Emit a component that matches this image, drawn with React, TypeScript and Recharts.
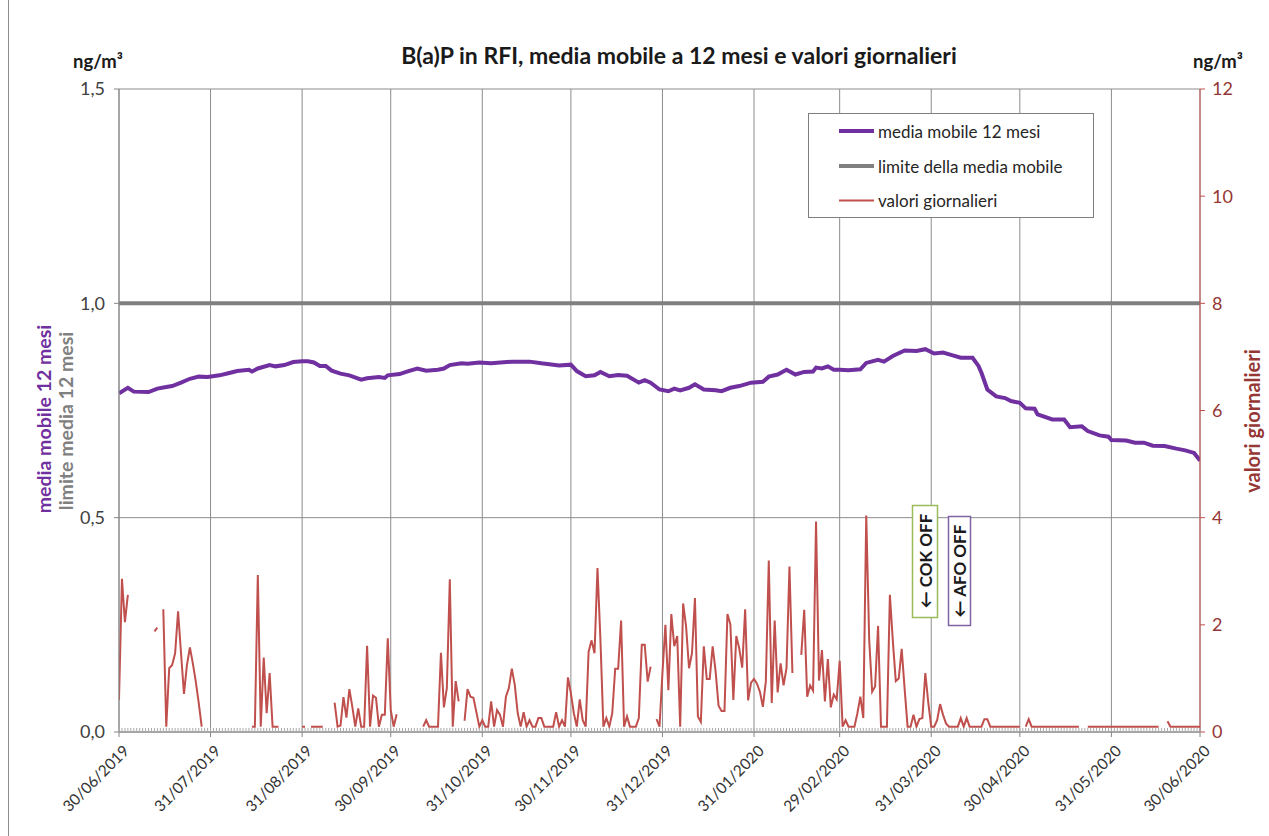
import React from 'react';
import { ComposedChart, Line, XAxis, YAxis, CartesianGrid, ReferenceLine } from 'recharts';

const W = 1269;
const H = 836;

const xTickDays = [0, 31, 62, 92, 123, 153, 184, 215, 244, 275, 305, 336, 366];
const xTickLabels = [
  '30/06/2019', '31/07/2019', '31/08/2019', '30/09/2019', '31/10/2019', '30/11/2019',
  '31/12/2019', '31/01/2020', '29/02/2020', '31/03/2020', '30/04/2020', '31/05/2020', '30/06/2020',
];
const leftTicks = [0, 0.5, 1.0, 1.5];
const rightTicks = [0, 2, 4, 6, 8, 10, 12];

const mavgDays = [
  0, 3, 5, 10, 13, 16, 18, 21, 24, 27, 30, 34, 37, 40, 44, 45, 47, 51, 53, 56, 59, 62, 64, 66, 68, 70,
  72, 75, 78, 82, 84, 88, 90, 91, 95, 98, 101, 104, 108, 110, 112, 116, 118, 122, 126, 133, 139, 143,
  149, 153, 155, 158, 161, 163, 166, 169, 172, 176, 178, 180, 183, 186, 188, 190, 193, 195, 198, 202,
  204, 207, 210, 214, 218, 220, 223, 226, 229, 232, 235, 236, 238, 240, 242, 244, 247, 251, 253, 257,
  259, 262, 266, 270, 273, 276, 279, 282, 285, 289, 291, 292, 294, 297, 300, 302, 305, 307, 310, 311,
  316, 320, 322, 326, 328, 332, 335, 336, 341, 344, 347, 350, 354, 358, 361, 364, 366,
];
const mavgValues = [
  0.790, 0.803, 0.794, 0.793, 0.801, 0.805, 0.807, 0.815, 0.824, 0.829, 0.828, 0.832, 0.837, 0.842, 0.845, 0.841, 0.848, 0.856, 0.853, 0.856, 0.863, 0.865, 0.865, 0.862, 0.854, 0.854,
  0.843, 0.836, 0.832, 0.822, 0.825, 0.828, 0.826, 0.832, 0.835, 0.842, 0.848, 0.843, 0.845, 0.848, 0.856, 0.860, 0.859, 0.862, 0.860, 0.864, 0.864, 0.860,
  0.855, 0.857, 0.842, 0.830, 0.832, 0.840, 0.830, 0.833, 0.831, 0.815, 0.821, 0.815, 0.799, 0.795, 0.801, 0.797, 0.803, 0.811, 0.799, 0.797,
  0.795, 0.803, 0.807, 0.815, 0.817, 0.829, 0.834, 0.845, 0.834, 0.840, 0.841, 0.850, 0.848, 0.853, 0.845, 0.845, 0.844, 0.846, 0.861, 0.868,
  0.864, 0.877, 0.890, 0.889, 0.893, 0.883, 0.885, 0.879, 0.873, 0.873, 0.854, 0.838, 0.799, 0.783, 0.779, 0.772, 0.768, 0.755, 0.754, 0.741,
  0.729, 0.729, 0.711, 0.713, 0.702, 0.692, 0.689, 0.681, 0.680, 0.675, 0.675, 0.668, 0.667, 0.661, 0.657, 0.651, 0.633,
];

// daily values, index = days after 30/06/2019 (null = missing)
const dailyValues: (number | null)[] = [
  0.6, 2.86, 2.05, 2.56, null, null, null, null, null, null,
  null, null, 1.88, 1.95, null, 2.29, 0.1, 1.19, 1.25, 1.47,
  2.25, 1.47, 0.71, 1.25, 1.58, 1.28, 0.94, 0.54, 0.1, null,
  null, null, null, null, null, null, null, null, null, null,
  null, null, null, null, null, 0.1, 0.1, 2.93, 0.1, 1.39,
  0.35, 1.1, 0.1, 0.1, 0.1, null, null, null, null, null,
  null, null, 0.1, 0.1, null, 0.1, 0.1, 0.1, 0.1, 0.1,
  null, null, null, 0.55, 0.1, 0.12, 0.65, 0.27, 0.8, 0.47,
  0.1, 0.44, 0.1, 0.1, 1.61, 0.1, 0.68, 0.64, 0.1, 0.32,
  0.32, 1.75, 0.41, 0.1, 0.33, null, null, null, null, null,
  null, null, null, 0.1, 0.22, 0.1, 0.1, 0.1, 0.1, 1.48,
  0.46, 0.82, 2.85, 0.1, 0.95, 0.57, null, 0.21, 0.8, 0.66,
  0.64, 0.37, 0.1, 0.22, 0.1, 0.1, 0.57, 0.1, 0.41, 0.32,
  0.1, 0.66, 0.82, 1.18, 0.88, 0.35, 0.1, 0.37, 0.1, 0.22,
  0.1, 0.1, 0.26, 0.26, 0.1, 0.1, 0.1, 0.1, 0.37, 0.1,
  0.22, 0.1, 1.02, 0.72, 0.35, 0.1, 0.61, 0.22, 0.1, 1.5,
  1.71, 1.47, 3.06, 1.72, 0.1, 0.26, 0.1, 0.35, 1.18, 1.18,
  2.08, 0.1, 0.29, 0.1, 0.1, 0.1, 0.26, 1.63, 1.63, 0.94,
  1.22, null, 0.24, 0.1, 1.1, 2.0, 0.78, 2.2, 1.6, 1.79,
  0.1, 2.4, 1.97, 1.19, 1.47, 2.5, 0.29, 0.19, 1.6, 0.99,
  0.99, 1.6, 1.13, 0.49, 0.39, 0.39, 2.2, 2.01, 0.6, 1.79,
  1.56, 1.2, 2.29, 0.59, 0.92, 0.99, 0.9, 0.75, 0.47, 0.94,
  3.2, 0.54, 2.08, 0.74, 1.28, 0.87, 1.19, 3.09, 1.1, null,
  null, 1.44, 2.28, 0.66, 0.87, 0.77, 3.93, 0.96, 1.53, 0.57,
  1.36, 0.46, 0.7, 0.61, 1.33, 0.1, 0.22, 0.1, 0.1, 0.1,
  0.35, 0.66, 0.26, 4.04, 1.72, 0.75, 0.85, 1.98, 0.1, 0.1,
  0.1, 2.56, 1.7, 0.95, 1.0, 1.55, 0.8, 0.1, 0.1, 0.32,
  0.1, 0.24, 0.26, 1.1, 0.55, 0.1, 0.1, 0.22, 0.52, 0.32,
  0.16, 0.1, 0.1, 0.1, 0.1, 0.26, 0.1, 0.26, 0.1, 0.1,
  0.1, 0.1, 0.1, 0.24, 0.24, 0.1, 0.1, 0.1, 0.1, 0.1,
  0.1, 0.1, 0.1, 0.1, 0.1, 0.1, null, 0.1, 0.24, 0.1,
  0.1, 0.1, 0.1, 0.1, 0.1, 0.1, 0.1, 0.1, 0.1, 0.1,
  0.1, 0.1, 0.1, 0.1, 0.1, 0.1, null, null, 0.1, 0.1,
  0.1, 0.1, 0.1, 0.1, 0.1, 0.1, 0.1, 0.1, 0.1, 0.1,
  0.1, 0.1, 0.1, 0.1, 0.1, 0.1, 0.1, 0.1, 0.1, 0.1,
  0.1, 0.1, 0.1, null, null, 0.2, 0.1, 0.1, 0.1, 0.1,
  0.1, 0.1, 0.1, 0.1, 0.1, 0.1, 0.1,
];

const limitDays = [0, 366];
const limitValues = [1.0, 1.0];

const mavgData = mavgDays.map((d, i) => ({ d, v: mavgValues[i] }));
const dailyData = dailyValues.map((v, d) => ({ d, v }));
const limitData = limitDays.map((d, i) => ({ d, v: limitValues[i] }));
const allDays = dailyValues.map((_, d) => d);

const FONT = 'Lato, "Open Sans", sans-serif';
const PURPLE = '#7030A0';
const GREY = '#808080';
const RED = '#C0504D';
const DARKRED = '#953735';

function DayTick(props: any) {
  const { x, y, payload } = props;
  const idx = xTickDays.indexOf(payload.value);
  const ax = x + 11;
  const ay = y + 20;
  return (
    <g>
      <line x1={x} x2={x} y1={y - 4} y2={y} stroke="#aaaaaa" strokeWidth={1} />
      {idx >= 0 && (
        <g>
          <line x1={x} x2={x} y1={y} y2={y + 5} stroke="#868686" strokeWidth={1} />
          <text
            x={ax}
            y={ay}
            textAnchor="end"
            transform={`rotate(-45 ${ax} ${ay})`}
            fontSize={15.5}
            fill="#333333"
            fontFamily={FONT}
          >
            {xTickLabels[idx]}
          </text>
        </g>
      )}
    </g>
  );
}

export default function App() {
  return (
    <div style={{ position: 'absolute', left: 0, top: 0, width: W, height: H, background: '#fff', fontFamily: FONT }}>
      <ComposedChart width={W} height={H} margin={{ top: 89, right: 9, bottom: 24, left: 59 }}>
        <CartesianGrid yAxisId="left" stroke="#8c8c8c" strokeWidth={1} vertical={false} />
        <XAxis
          dataKey="d"
          type="number"
          domain={[0, 366]}
          ticks={allDays}
          interval={0}
          height={80}
          tickSize={0}
          tickMargin={0}
          tickLine={false}
          axisLine={{ stroke: '#868686' }}
          tick={<DayTick />}
          allowDataOverflow
        />
        <YAxis
          yAxisId="left"
          domain={[0, 1.5]}
          ticks={leftTicks}
          width={60}
          tickSize={5}
          tickMargin={9}
          axisLine={{ stroke: '#868686' }}
          tickLine={{ stroke: '#868686' }}
          tick={{ fill: '#404040', fontSize: 18, fontFamily: FONT }}
          tickFormatter={(v: number) => v.toFixed(1).replace('.', ',')}
          allowDataOverflow
        />
        <YAxis
          yAxisId="right"
          orientation="right"
          domain={[0, 12]}
          ticks={rightTicks}
          width={60}
          tickSize={5}
          tickMargin={7}
          axisLine={{ stroke: RED }}
          tickLine={{ stroke: RED }}
          tick={{ fill: DARKRED, fontSize: 18, fontFamily: FONT }}
          allowDataOverflow
        />
        {xTickDays.map((d) => (
          <ReferenceLine key={d} x={d} yAxisId="left" stroke="#8c8c8c" strokeWidth={1} />
        ))}
        <Line data={limitData} dataKey="v" yAxisId="left" stroke={GREY} strokeWidth={4} dot={false} isAnimationActive={false} />
        <Line data={dailyData} dataKey="v" yAxisId="right" stroke={RED} strokeWidth={2} dot={false} connectNulls={false} isAnimationActive={false} />
        <Line data={mavgData} dataKey="v" yAxisId="left" stroke={PURPLE} strokeWidth={4} dot={false} isAnimationActive={false} />
      </ComposedChart>

      <svg width={W} height={H} style={{ position: 'absolute', left: 0, top: 0, pointerEvents: 'none' }} fontFamily={FONT}>
        <line x1={8.5} x2={8.5} y1={0} y2={H} stroke="#8c8c8c" strokeWidth={1} />
        <text x={679} y={55} textAnchor="middle" dominantBaseline="central" fontSize={23} fontWeight="bold" fill="#1a1a1a">
          B(a)P in RFI, media mobile a 12 mesi e valori giornalieri
        </text>
        <text x={98} y={61} textAnchor="middle" dominantBaseline="central" fontSize={18.5} fontWeight="bold" fill="#1a1a1a">ng/m³</text>
        <text x={1218} y={61} textAnchor="middle" dominantBaseline="central" fontSize={18.5} fontWeight="bold" fill="#1a1a1a">ng/m³</text>

        <text x={43} y={419} textAnchor="middle" dominantBaseline="central" transform="rotate(-90 43 419)" fontSize={19.5} fontWeight="bold" fill={PURPLE}>media mobile 12 mesi</text>
        <text x={65} y={421} textAnchor="middle" dominantBaseline="central" transform="rotate(-90 65 421)" fontSize={19.5} fontWeight="bold" fill={GREY}>limite media 12 mesi</text>
        <text x={1252} y={421} textAnchor="middle" dominantBaseline="central" transform="rotate(-90 1252 421)" fontSize={20} fontWeight="bold" fill={DARKRED}>valori giornalieri</text>

        <rect x={808.5} y={113.5} width={285} height={104} fill="#fff" stroke="#7f7f7f" strokeWidth={1} />
        <line x1={839} x2={874} y1={131} y2={131} stroke={PURPLE} strokeWidth={4} />
        <text x={878} y={131} dominantBaseline="central" fontSize={17} fill="#262626">media mobile 12 mesi</text>
        <line x1={839} x2={874} y1={166} y2={166} stroke={GREY} strokeWidth={4} />
        <text x={878} y={166} dominantBaseline="central" fontSize={17} fill="#262626">limite della media mobile</text>
        <line x1={839} x2={874} y1={200.5} y2={200.5} stroke={RED} strokeWidth={2} />
        <text x={878} y={200.5} dominantBaseline="central" fontSize={17} fill="#262626">valori giornalieri</text>

        <rect x={912.5} y={505.5} width={25} height={112} fill="#fff" stroke="#9BBB59" strokeWidth={1.5} />
        <text x={925} y={561} textAnchor="middle" dominantBaseline="central" transform="rotate(-90 925 561)" fontSize={17} fontWeight="bold" fill="#1a1a1a">← COK OFF</text>
        <rect x={948.5} y={516.5} width={22} height={109} fill="#fff" stroke="#8064A2" strokeWidth={1.5} />
        <text x={959.5} y={571} textAnchor="middle" dominantBaseline="central" transform="rotate(-90 959.5 571)" fontSize={17} fontWeight="bold" fill="#1a1a1a">← AFO OFF</text>
      </svg>
    </div>
  );
}
